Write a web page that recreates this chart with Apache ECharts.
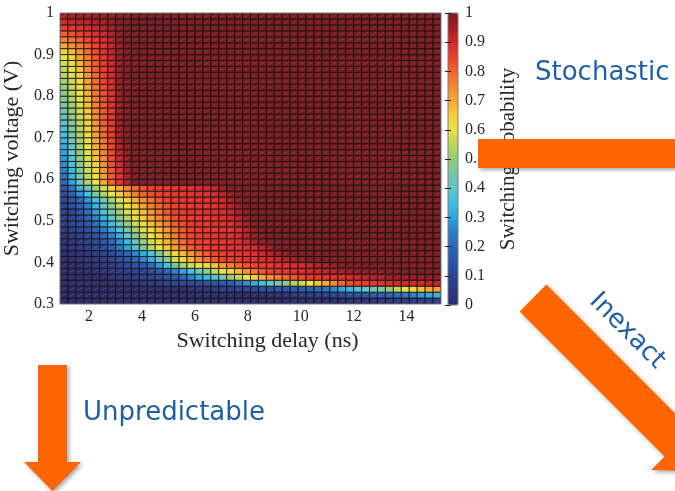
<!DOCTYPE html>
<html><head><meta charset="utf-8">
<script src="https://cdn.jsdelivr.net/npm/echarts@6/dist/echarts.min.js"></script>
<style>html,body{margin:0;padding:0;background:#fff;}#c{width:675px;height:491px;}</style>
</head><body><div id="c"></div>
<script>
// ---- data ----
const delays = [1.05,1.35,1.65,1.95,2.25,2.55,2.85,3.15,3.45,3.75,4.05,4.35,4.65,4.95,5.25,5.55,5.85,6.15,6.45,6.75,7.05,7.35,7.65,7.95,8.25,8.55,8.85,9.15,9.45,9.75,10.05,10.35,10.65,10.95,11.25,11.55,11.85,12.15,12.45,12.75,13.05,13.35,13.65,13.95,14.25,14.55,14.85,15.15];
const voltages = [0.3071,0.3214,0.3357,0.35,0.3643,0.3786,0.3929,0.4071,0.4214,0.4357,0.45,0.4643,0.4786,0.4929,0.5071,0.5214,0.5357,0.55,0.5643,0.5786,0.5929,0.6071,0.6214,0.6357,0.65,0.6643,0.6786,0.6929,0.7071,0.7214,0.7357,0.75,0.7643,0.7786,0.7929,0.8071,0.8214,0.8357,0.85,0.8643,0.8786,0.8929,0.9071,0.9214,0.9357,0.95,0.9643,0.9786,0.9929];
// switching probability in percent; row i belongs to voltages[i], column j to delays[j]
const probability = [
[0,0,0,0,0,0,0,0,0,0,0,0,0,0,0,0,0,0,0,0,0,0,0,0,0,0,0,0,0,0,0,0,0,0,0,0,1,1,2,2,3,3,4,4,5,5,6,6],
[0,0,0,0,0,0,0,0,0,0,0,0,0,0,0,0,0,0,0,0,0,0,0,0,0,0,1,2,3,4,5,6,7,8,9,10,12,13,14,16,18,20,21,23,25,28,30,32],
[0,0,0,0,0,0,0,0,0,0,0,0,0,0,0,0,2,2,3,4,5,6,7,8,10,11,12,13,14,15,16,18,20,22,25,30,33,37,40,43,46,50,55,60,63,67,70,72],
[0,0,0,0,0,0,0,0,0,2,3,4,5,7,9,10,11,12,13,14,16,18,22,26,30,35,40,44,48,52,56,60,66,70,75,80,83,85,86,87,88,89,90,90,91,91,92,92],
[0,0,0,0,0,0,2,3,4,5,6,8,10,13,16,20,25,30,34,38,44,50,55,60,65,70,74,77,80,82,84,86,87,88,88,89,90,91,92,93,94,95,96,96,97,97,98,98],
[0,0,0,0,2,3,4,5,6,8,10,12,15,20,25,30,36,42,48,55,60,63,68,73,78,82,85,87,88,89,90,91,92,93,94,95,96,97,98,98,99,99,100,100,100,100,100,100],
[0,0,0,2,3,4,5,7,10,13,16,20,28,36,45,52,56,60,63,67,72,76,80,83,85,86,87,88,88,89,90,92,94,96,98,100,100,100,100,100,100,100,100,100,100,100,100,100],
[0,0,2,3,4,6,8,11,15,20,26,32,40,48,57,63,69,74,78,82,85,86,87,88,88,89,90,92,94,96,98,100,100,100,100,100,100,100,100,100,100,100,100,100,100,100,100,100],
[0,1,2,3,5,7,10,14,19,25,31,38,46,54,62,68,73,78,82,85,86,87,88,88,89,91,93,96,98,100,100,100,100,100,100,100,100,100,100,100,100,100,100,100,100,100,100,100],
[1,2,4,6,9,12,17,23,30,38,46,54,60,66,72,77,81,84,86,87,87,88,88,89,90,93,96,100,100,100,100,100,100,100,100,100,100,100,100,100,100,100,100,100,100,100,100,100],
[2,3,5,8,11,15,20,27,34,42,50,57,63,69,74,79,83,85,86,87,87,88,89,91,95,98,100,100,100,100,100,100,100,100,100,100,100,100,100,100,100,100,100,100,100,100,100,100],
[2,4,6,10,14,19,25,32,40,47,54,60,66,72,77,81,84,86,87,87,88,88,90,93,97,100,100,100,100,100,100,100,100,100,100,100,100,100,100,100,100,100,100,100,100,100,100,100],
[4,6,9,13,18,24,30,37,45,52,58,63,68,73,78,82,85,86,87,87,88,88,90,94,98,100,100,100,100,100,100,100,100,100,100,100,100,100,100,100,100,100,100,100,100,100,100,100],
[5,8,11,16,21,28,35,42,50,56,62,67,72,77,81,84,86,87,87,88,88,89,92,96,100,100,100,100,100,100,100,100,100,100,100,100,100,100,100,100,100,100,100,100,100,100,100,100],
[6,9,13,19,25,32,40,47,54,60,65,70,75,79,83,85,86,87,87,88,88,90,93,97,100,100,100,100,100,100,100,100,100,100,100,100,100,100,100,100,100,100,100,100,100,100,100,100],
[7,10,15,22,29,37,44,51,58,63,68,73,78,82,85,86,87,87,88,88,89,91,95,98,100,100,100,100,100,100,100,100,100,100,100,100,100,100,100,100,100,100,100,100,100,100,100,100],
[8,12,18,25,33,41,48,55,61,66,71,76,80,83,85,86,87,87,88,88,90,93,97,100,100,100,100,100,100,100,100,100,100,100,100,100,100,100,100,100,100,100,100,100,100,100,100,100],
[9,14,20,28,36,44,51,58,64,69,74,78,82,85,86,87,87,88,88,89,91,95,98,100,100,100,100,100,100,100,100,100,100,100,100,100,100,100,100,100,100,100,100,100,100,100,100,100],
[11,18,27,36,45,53,60,66,71,76,80,83,85,86,87,87,88,88,89,90,93,97,100,100,100,100,100,100,100,100,100,100,100,100,100,100,100,100,100,100,100,100,100,100,100,100,100,100],
[14,22,32,41,50,57,64,70,76,80,83,85,86,87,87,88,88,89,90,92,96,100,100,100,100,100,100,100,100,100,100,100,100,100,100,100,100,100,100,100,100,100,100,100,100,100,100,100],
[20,30,43,53,60,70,80,87,94,100,100,100,100,100,100,100,100,100,100,100,100,100,100,100,100,100,100,100,100,100,100,100,100,100,100,100,100,100,100,100,100,100,100,100,100,100,100,100],
[22,32,44,55,62,72,81,88,95,100,100,100,100,100,100,100,100,100,100,100,100,100,100,100,100,100,100,100,100,100,100,100,100,100,100,100,100,100,100,100,100,100,100,100,100,100,100,100],
[24,34,45,56,64,73,82,89,96,100,100,100,100,100,100,100,100,100,100,100,100,100,100,100,100,100,100,100,100,100,100,100,100,100,100,100,100,100,100,100,100,100,100,100,100,100,100,100],
[26,36,47,57,65,74,83,90,97,100,100,100,100,100,100,100,100,100,100,100,100,100,100,100,100,100,100,100,100,100,100,100,100,100,100,100,100,100,100,100,100,100,100,100,100,100,100,100],
[28,38,48,58,67,75,84,91,97,100,100,100,100,100,100,100,100,100,100,100,100,100,100,100,100,100,100,100,100,100,100,100,100,100,100,100,100,100,100,100,100,100,100,100,100,100,100,100],
[30,40,49,59,68,76,84,93,98,100,100,100,100,100,100,100,100,100,100,100,100,100,100,100,100,100,100,100,100,100,100,100,100,100,100,100,100,100,100,100,100,100,100,100,100,100,100,100],
[31,41,50,60,69,77,85,94,98,100,100,100,100,100,100,100,100,100,100,100,100,100,100,100,100,100,100,100,100,100,100,100,100,100,100,100,100,100,100,100,100,100,100,100,100,100,100,100],
[33,43,51,61,70,78,85,95,99,100,100,100,100,100,100,100,100,100,100,100,100,100,100,100,100,100,100,100,100,100,100,100,100,100,100,100,100,100,100,100,100,100,100,100,100,100,100,100],
[35,45,52,62,71,79,86,95,99,100,100,100,100,100,100,100,100,100,100,100,100,100,100,100,100,100,100,100,100,100,100,100,100,100,100,100,100,100,100,100,100,100,100,100,100,100,100,100],
[37,46,54,63,72,80,86,95,99,100,100,100,100,100,100,100,100,100,100,100,100,100,100,100,100,100,100,100,100,100,100,100,100,100,100,100,100,100,100,100,100,100,100,100,100,100,100,100],
[39,47,55,64,73,81,87,96,99,100,100,100,100,100,100,100,100,100,100,100,100,100,100,100,100,100,100,100,100,100,100,100,100,100,100,100,100,100,100,100,100,100,100,100,100,100,100,100],
[41,49,56,65,74,81,87,96,99,100,100,100,100,100,100,100,100,100,100,100,100,100,100,100,100,100,100,100,100,100,100,100,100,100,100,100,100,100,100,100,100,100,100,100,100,100,100,100],
[43,50,57,66,75,82,87,96,99,100,100,100,100,100,100,100,100,100,100,100,100,100,100,100,100,100,100,100,100,100,100,100,100,100,100,100,100,100,100,100,100,100,100,100,100,100,100,100],
[45,51,58,67,76,82,88,96,99,100,100,100,100,100,100,100,100,100,100,100,100,100,100,100,100,100,100,100,100,100,100,100,100,100,100,100,100,100,100,100,100,100,100,100,100,100,100,100],
[47,53,59,68,76,83,88,96,99,100,100,100,100,100,100,100,100,100,100,100,100,100,100,100,100,100,100,100,100,100,100,100,100,100,100,100,100,100,100,100,100,100,100,100,100,100,100,100],
[48,54,60,69,77,83,88,96,99,100,100,100,100,100,100,100,100,100,100,100,100,100,100,100,100,100,100,100,100,100,100,100,100,100,100,100,100,100,100,100,100,100,100,100,100,100,100,100],
[50,55,61,70,78,84,89,97,99,100,100,100,100,100,100,100,100,100,100,100,100,100,100,100,100,100,100,100,100,100,100,100,100,100,100,100,100,100,100,100,100,100,100,100,100,100,100,100],
[51,56,63,71,79,85,89,97,99,100,100,100,100,100,100,100,100,100,100,100,100,100,100,100,100,100,100,100,100,100,100,100,100,100,100,100,100,100,100,100,100,100,100,100,100,100,100,100],
[53,58,65,73,80,85,90,97,99,100,100,100,100,100,100,100,100,100,100,100,100,100,100,100,100,100,100,100,100,100,100,100,100,100,100,100,100,100,100,100,100,100,100,100,100,100,100,100],
[55,60,67,75,81,86,90,97,99,100,100,100,100,100,100,100,100,100,100,100,100,100,100,100,100,100,100,100,100,100,100,100,100,100,100,100,100,100,100,100,100,100,100,100,100,100,100,100],
[57,62,69,76,82,87,91,97,99,100,100,100,100,100,100,100,100,100,100,100,100,100,100,100,100,100,100,100,100,100,100,100,100,100,100,100,100,100,100,100,100,100,100,100,100,100,100,100],
[60,64,71,77,83,87,91,97,99,100,100,100,100,100,100,100,100,100,100,100,100,100,100,100,100,100,100,100,100,100,100,100,100,100,100,100,100,100,100,100,100,100,100,100,100,100,100,100],
[64,68,74,79,84,88,92,97,100,100,100,100,100,100,100,100,100,100,100,100,100,100,100,100,100,100,100,100,100,100,100,100,100,100,100,100,100,100,100,100,100,100,100,100,100,100,100,100],
[70,73,77,81,85,88,92,97,100,100,100,100,100,100,100,100,100,100,100,100,100,100,100,100,100,100,100,100,100,100,100,100,100,100,100,100,100,100,100,100,100,100,100,100,100,100,100,100],
[76,78,81,84,87,90,93,98,100,100,100,100,100,100,100,100,100,100,100,100,100,100,100,100,100,100,100,100,100,100,100,100,100,100,100,100,100,100,100,100,100,100,100,100,100,100,100,100],
[81,83,85,87,89,91,94,98,100,100,100,100,100,100,100,100,100,100,100,100,100,100,100,100,100,100,100,100,100,100,100,100,100,100,100,100,100,100,100,100,100,100,100,100,100,100,100,100],
[86,87,88,90,91,93,95,98,100,100,100,100,100,100,100,100,100,100,100,100,100,100,100,100,100,100,100,100,100,100,100,100,100,100,100,100,100,100,100,100,100,100,100,100,100,100,100,100],
[90,91,92,93,94,95,97,99,100,100,100,100,100,100,100,100,100,100,100,100,100,100,100,100,100,100,100,100,100,100,100,100,100,100,100,100,100,100,100,100,100,100,100,100,100,100,100,100],
[94,95,96,96,97,97,98,99,100,100,100,100,100,100,100,100,100,100,100,100,100,100,100,100,100,100,100,100,100,100,100,100,100,100,100,100,100,100,100,100,100,100,100,100,100,100,100,100]
];
const xTicks = [2,4,6,8,10,12,14];
const yTicks = [0.3,0.4,0.5,0.6,0.7,0.8,0.9,1];
const barTicks = [0,0.1,0.2,0.3,0.4,0.5,0.6,0.7,0.8,0.9,1];
const xName = 'Switching delay (ns)';
const yName = 'Switching voltage (V)';
const barName = 'Switching probability';
const slideWords = ['Stochastic', 'Unpredictable', 'Inexact'];

// ---- styling ----
const palette = ['#2b2c6b','#2c3a85','#2b4697','#2a54a6','#2a65b4','#2980c8','#28a6e0','#3bbfe3','#5cc6c9','#75c6a2',
  '#94cc78','#bcd65c','#e6e343','#f5ce38','#f8a933','#f6862f','#f2632c','#ec3d2a','#d2262a','#a11e24','#7a1c21'];
const CELL_W = 0.3, CELL_H = 0.7 / 49;
const serif = 'Liberation Serif', sans = 'DejaVu Sans', ink = '#262626';
const slideBlue = '#1f5f9f', orange = '#ff6600';
const shade = {shadowBlur: 4, shadowOffsetX: 2, shadowOffsetY: 2, shadowColor: 'rgba(0,0,0,0.35)'};

const cells = [];
voltages.forEach((v, i) => delays.forEach((d, j) => cells.push([d, v, probability[i][j]])));

function renderItem(params, api) {
  const xc = api.value(0), yc = api.value(1);
  const p0 = api.coord([xc - CELL_W / 2, yc + CELL_H / 2]);
  const p1 = api.coord([xc + CELL_W / 2, yc - CELL_H / 2]);
  const w = p1[0] - p0[0], h = p1[1] - p0[1];
  return {type: 'group', children: [
    {type: 'rect', shape: {x: p0[0], y: p0[1], width: w, height: h},
     style: {fill: api.visual('color'), stroke: 'rgba(22,16,16,0.8)', lineWidth: 1}},
    {type: 'line', shape: {x1: p0[0] + 1.5, y1: p1[1] - 1.5, x2: p1[0] - 1.5, y2: p0[1] + 1.5},
     style: {stroke: 'rgba(255,255,255,0.10)', lineWidth: 1}}
  ]};
}

const fmt = v => (Math.abs(v - 1) < 1e-9 ? '1' : Math.abs(v) < 1e-9 ? '0' : String(+v.toFixed(1)));

const chart = echarts.init(document.getElementById('c'), null, {renderer: 'canvas', width: 675, height: 491});
chart.setOption({
  animation: false,
  backgroundColor: '#ffffff',
  grid: [
    {left: 60, top: 13, width: 381, height: 291, show: true, borderColor: '#7a7a7a', borderWidth: 1,
     backgroundColor: 'transparent', z: 3, outerBoundsMode: 'none', containLabel: false},
    {left: 448, top: 13, width: 10, height: 292, show: true, borderColor: '#7a7a7a', borderWidth: 1,
     backgroundColor: 'transparent', z: 6, outerBoundsMode: 'none', containLabel: false}
  ],
  xAxis: [
    {type: 'value', gridIndex: 0, min: 0.9, max: 15.3,
     axisLine: {show: false}, axisTick: {show: false}, splitLine: {show: false},
     axisLabel: {customValues: xTicks, formatter: v => String(v), fontFamily: serif, fontSize: 16, color: ink, margin: 5},
     name: xName, nameLocation: 'middle', nameGap: 22,
     nameTextStyle: {fontFamily: serif, fontSize: 22, color: ink, padding: [0, 0, 0, 34]}},
    {type: 'value', gridIndex: 1, min: 0, max: 1, show: false}
  ],
  yAxis: [
    {type: 'value', gridIndex: 0, min: 0.3, max: 1,
     axisLine: {show: false}, axisTick: {show: false}, splitLine: {show: false},
     axisLabel: {customValues: yTicks, formatter: fmt, fontFamily: serif, fontSize: 16, color: ink, margin: 6},
     name: yName, nameLocation: 'middle', nameRotate: 90, nameGap: 32,
     nameTextStyle: {fontFamily: serif, fontSize: 22, color: ink}},
    {type: 'value', gridIndex: 1, min: 0, max: 1, position: 'right', z: 10,
     axisLine: {show: false}, splitLine: {show: false},
     axisTick: {show: true, inside: true, length: 3, customValues: barTicks, lineStyle: {color: '#222'}},
     axisLabel: {customValues: barTicks, formatter: fmt, fontFamily: serif, fontSize: 16, color: ink, margin: 7},
     name: barName, nameLocation: 'middle', nameRotate: 90, nameGap: 40,
     nameTextStyle: {fontFamily: serif, fontSize: 21, color: ink}},
    {type: 'value', gridIndex: 1, min: 0, max: 1, position: 'left', z: 10,
     axisLine: {show: false}, splitLine: {show: false}, axisLabel: {show: false},
     axisTick: {show: true, inside: true, length: 3, customValues: barTicks, lineStyle: {color: '#222'}}}
  ],
  visualMap: {
    type: 'continuous', min: 0, max: 100, dimension: 2, seriesIndex: 0,
    left: 448, top: 13, itemWidth: 10, itemHeight: 292, padding: 0,
    calculable: false, hoverLink: false, inRange: {color: palette}, z: 4
  },
  series: [{type: 'custom', renderItem: renderItem, data: cells, clip: true, encode: {x: 0, y: 1}}],
  graphic: [
    {type: 'text', x: 535, y: 73, z: 100,
     style: {text: slideWords[0], fill: slideBlue, fontFamily: sans, fontSize: 26, verticalAlign: 'middle'}},
    {type: 'text', x: 83, y: 413, z: 100,
     style: {text: slideWords[1], fill: slideBlue, fontFamily: sans, fontSize: 26, verticalAlign: 'middle'}},
    {type: 'text', x: 627, y: 331, rotation: -Math.PI / 4, z: 100,
     style: {text: slideWords[2], fill: slideBlue, fontFamily: sans, fontSize: 26, align: 'center', verticalAlign: 'middle'}},
    {type: 'rect', z: 100, shape: {x: 478, y: 139, width: 205, height: 29},
     style: Object.assign({fill: orange}, shade)},
    {type: 'polygon', z: 100,
     shape: {points: [[38,365],[67,365],[67,462],[81,462],[52.5,491],[24,462],[38,462]]},
     style: Object.assign({fill: orange}, shade)},
    {type: 'polygon', z: 100,
     shape: {points: [[546.4,284.6],[691.4,429.6],[704.9,416.1],[706.3,471.3],[651.1,469.9],[664.6,456.4],[519.6,311.4]]},
     style: Object.assign({fill: orange}, shade)}
  ]
});
</script>
</body></html>
